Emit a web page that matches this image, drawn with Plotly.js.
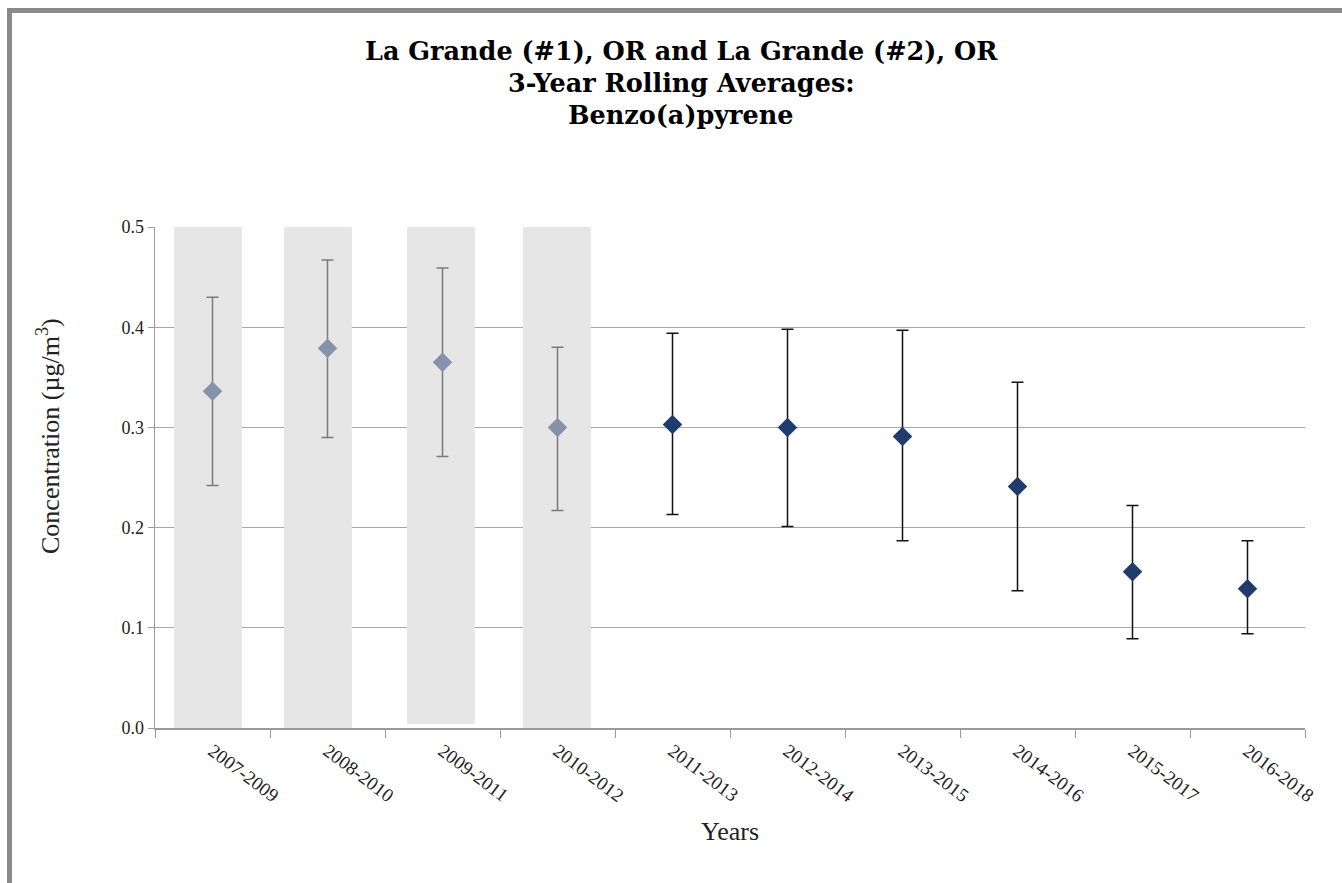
<!DOCTYPE html>
<html>
<head>
<meta charset="utf-8">
<script src="https://cdn.plot.ly/plotly-3.0.1.min.js"></script>
<style>
  html, body { margin: 0; padding: 0; background: #fff; }
  #chart { width: 1342px; height: 883px; position: absolute; left: 0; top: 0; }
  #frameTop { position: absolute; left: 7px; top: 8px; width: 1335px; height: 5px; background: #8a8a8a; pointer-events: none; }
  #frameLeft { position: absolute; left: 7px; top: 8px; width: 5px; height: 875px; background: #8a8a8a; pointer-events: none; }
</style>
</head>
<body>
<div id="chart"></div>
<div id="frameTop"></div>
<div id="frameLeft"></div>
<script>
// Categories (3-year periods)
const periods = ["2007-2009","2008-2010","2009-2011","2010-2012","2011-2013",
                 "2012-2014","2013-2015","2014-2016","2015-2017","2016-2018"];

// Earlier periods (La Grande #1), shaded
const earlyPeriods = ["2007-2009","2008-2010","2009-2011","2010-2012"];
const earlyMean  = [0.336, 0.379, 0.365, 0.300];
const earlyUpper = [0.430, 0.467, 0.459, 0.380];
const earlyLower = [0.242, 0.290, 0.271, 0.217];

// Later periods (La Grande #2)
const latePeriods = ["2011-2013","2012-2014","2013-2015","2014-2016","2015-2017","2016-2018"];
const lateMean  = [0.303, 0.300, 0.291, 0.241, 0.156, 0.139];
const lateUpper = [0.394, 0.398, 0.397, 0.345, 0.222, 0.187];
const lateLower = [0.213, 0.201, 0.187, 0.137, 0.089, 0.094];

// Shading bars behind the earlier periods
const shadeTop  = [0.5, 0.5, 0.5, 0.5];
const shadeBase = [0, 0, 0.004, 0];

// Title lines
const titleLines = ["La Grande (#1), OR and La Grande (#2), OR",
                    "3-Year Rolling Averages:",
                    "Benzo(a)pyrene"];
const yTitle = "Concentration (µg/m<sup>3</sup>)";
const xTitle = "Years";

const SERIF = "Times New Roman, Liberation Serif, serif";
const SERIF_BOLD = "DejaVu Serif, serif";
const diff = (a, b) => a.map((v, i) => +(v - b[i]).toFixed(4));

const traces = [
  {
    type: "bar",
    x: earlyPeriods,
    y: diff(shadeTop, shadeBase),
    base: shadeBase,
    width: 0.59,
    offset: [-0.335, -0.378, -0.309, -0.30],
    marker: { color: "#e6e6e6", line: { width: 0 } },
    hoverinfo: "skip",
    showlegend: false
  },
  {
    type: "scatter",
    mode: "markers",
    x: earlyPeriods,
    y: earlyMean,
    marker: { symbol: "diamond", size: 15, color: "#8592aa" },
    error_y: {
      type: "data", symmetric: false,
      array: diff(earlyUpper, earlyMean),
      arrayminus: diff(earlyMean, earlyLower),
      color: "#7a7a7a", thickness: 1.5, width: 6
    },
    showlegend: false
  },
  {
    type: "scatter",
    mode: "markers",
    x: latePeriods,
    y: lateMean,
    marker: { symbol: "diamond", size: 15, color: "#1f3c6d" },
    error_y: {
      type: "data", symmetric: false,
      array: diff(lateUpper, lateMean),
      arrayminus: diff(lateMean, lateLower),
      color: "#111111", thickness: 1.5, width: 6
    },
    showlegend: false
  }
];

// plot area: x 155..1305 px, y 227..728 px
const px2x = p => (p - 155) / 1150;
const px2y = p => (728 - p) / 501;
const titleY = [51, 83, 115];

const annotations = titleLines.map((t, i) => ({
  text: "<b>" + t + "</b>",
  xref: "paper", yref: "paper",
  x: px2x(681), y: px2y(titleY[i]),
  xanchor: "center", yanchor: "middle",
  showarrow: false,
  font: { family: SERIF_BOLD, size: 25.5, color: "#000" }
}));
annotations.push({
  text: yTitle,
  xref: "paper", yref: "paper",
  x: px2x(48), y: px2y(436),
  xanchor: "center", yanchor: "middle",
  textangle: -90,
  showarrow: false,
  font: { family: SERIF, size: 26, color: "#222" }
});

const layout = {
  width: 1342,
  height: 883,
  margin: { l: 155, r: 37, t: 227, b: 155 },
  paper_bgcolor: "#ffffff",
  plot_bgcolor: "#ffffff",
  font: { family: SERIF, color: "#222" },
  annotations: annotations,
  xaxis: {
    type: "category",
    categoryorder: "array",
    categoryarray: periods,
    range: [-0.5, 9.5],
    tickangle: 37,
    tickson: "boundaries",
    ticks: "outside",
    ticklen: 8,
    tickcolor: "#9a9a9a",
    showline: true,
    linecolor: "#9a9a9a",
    linewidth: 1.5,
    showgrid: false,
    ticklabelstandoff: 3,
    tickfont: { family: SERIF, size: 19, color: "#222" },
    title: { text: xTitle, font: { family: SERIF, size: 26, color: "#222" }, standoff: 16 },
    fixedrange: true
  },
  yaxis: {
    range: [0, 0.5],
    dtick: 0.1,
    tickformat: ".1f",
    ticks: "outside",
    ticklen: 6,
    tickcolor: "#9a9a9a",
    showline: true,
    linecolor: "#9a9a9a",
    linewidth: 1.5,
    showgrid: true,
    gridcolor: "#a6a6a6",
    gridwidth: 1.2,
    zeroline: false,
    tickfont: { family: SERIF, size: 18, color: "#222" },
    fixedrange: true
  },
  showlegend: false
};

Plotly.newPlot("chart", traces, layout, { displayModeBar: false, staticPlot: true });
</script>
</body>
</html>
